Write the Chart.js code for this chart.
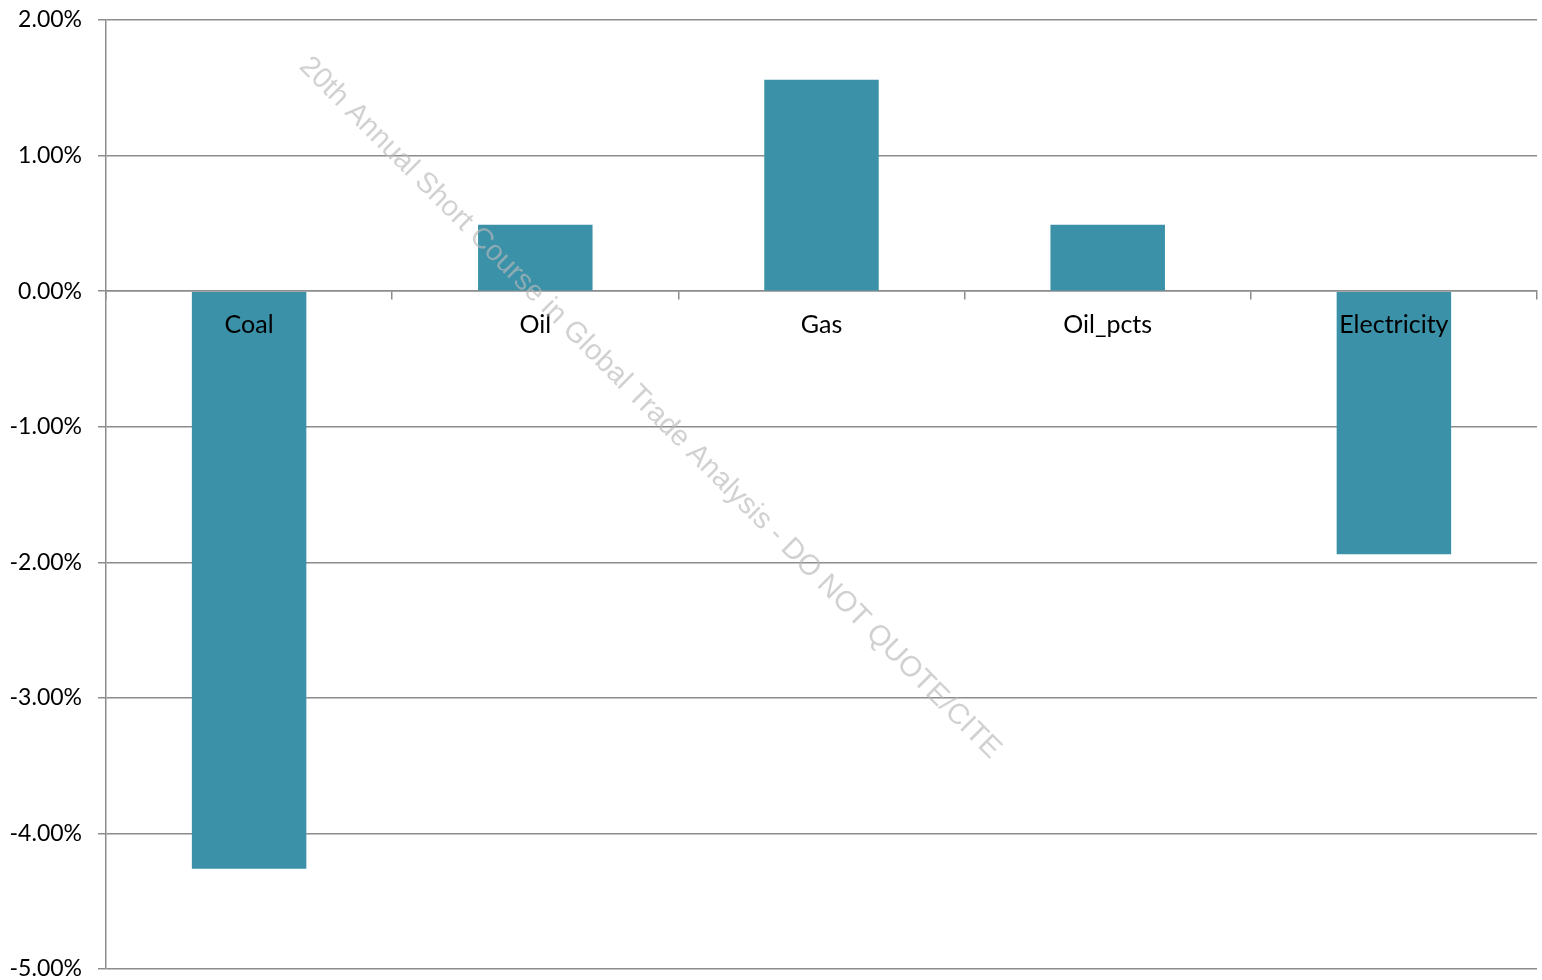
<!DOCTYPE html>
<html>
<head>
<meta charset="utf-8">
<script src="https://cdn.jsdelivr.net/npm/chart.js@4/dist/chart.umd.min.js"></script>
<style>
	html, body { margin: 0; padding: 0; background: #fff; }
	#wrap { width: 1542px; height: 980px; }
</style>
</head>
<body>
<div id="wrap"><canvas id="chart"></canvas></div>
<script>
// energy output change by sector, in percent
const categories = ["Coal", "Oil", "Gas", "Oil_pcts", "Electricity"];
const changes = [-4.26, 0.49, 1.56, 0.49, -1.94];
const yTicks = [2, 1, 0, -1, -2, -3, -4, -5];
const watermark = "20th Annual Short Course in Global Trade Analysis - DO NOT QUOTE/CITE";

const gridColor = "#8c8c8c";
const barColor = "#3a91a8";
const font = "Lato, 'DejaVu Sans', sans-serif";

// draws the diagonal watermark on top of the bars
const watermarkPlugin = {
	id: "watermark",
	afterDraw(chart) {
		const ctx = chart.ctx;
		ctx.save();
		ctx.translate(650, 408);
		ctx.rotate(Math.PI / 4);
		ctx.font = "29px 'Liberation Sans', Arial, sans-serif";
		ctx.fillStyle = "rgba(185,185,185,0.65)";
		ctx.textAlign = "center";
		ctx.textBaseline = "middle";
		ctx.fillText(watermark, 0, 0);
		ctx.restore();
	},
};

new Chart(document.getElementById("chart"), {
	type: "bar",
	data: {
		labels: categories,
		datasets: [
			{
				data: changes,
				backgroundColor: barColor,
				borderWidth: 0,
				categoryPercentage: 1,
				barPercentage: 0.4,
			},
		],
	},
	options: {
		responsive: true,
		maintainAspectRatio: false,
		animation: false,
		layout: { padding: { top: 20, right: 5, bottom: 11, left: 0 } },
		plugins: {
			legend: { display: false },
			tooltip: { enabled: false },
		},
		scales: {
			x: {
				position: { y: 0 },
				grid: {
					offset: true,
					drawOnChartArea: false,
					color: gridColor,
					lineWidth: 1.5,
					tickLength: 8,
				},
				border: { color: gridColor, width: 1.5 },
				ticks: {
					z: 1, // category labels sit on top of the bars
					color: "#000",
					font: { family: font, size: 25 },
					padding: 11,
					maxRotation: 0,
				},
			},
			y: {
				min: -5,
				max: 2,
				afterFit(scale) {
					scale.width = 106;
					// let the plot run right to the top and bottom labels
					scale.paddingTop = 0;
					scale.paddingBottom = 0;
				},
				afterBuildTicks(scale) {
					scale.ticks = yTicks.map((v) => ({ value: v }));
				},
				grid: {
					color: gridColor,
					lineWidth: 1.5,
					tickLength: 8,
				},
				border: { color: gridColor, width: 1.5 },
				ticks: {
					color: "#000",
					font: { family: font, size: 23 },
					padding: 16,
					callback: (v) => v.toFixed(2) + "%",
				},
			},
		},
	},
	plugins: [watermarkPlugin],
});
</script>
</body>
</html>
